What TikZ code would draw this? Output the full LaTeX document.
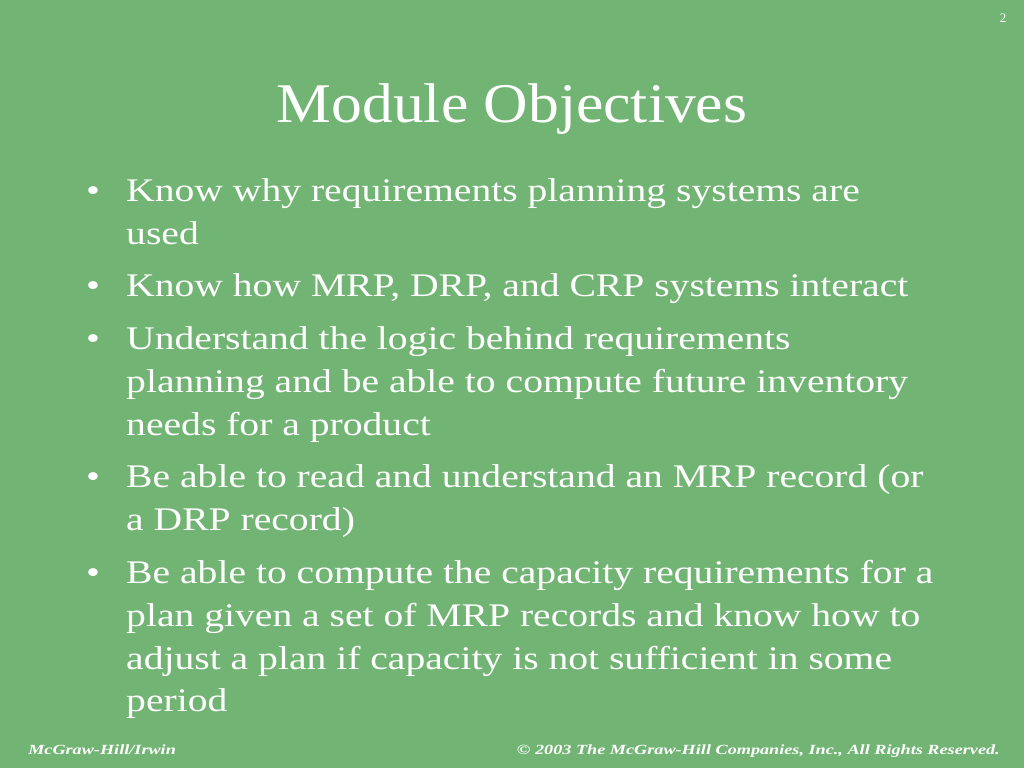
\documentclass[tikz,border=0pt]{standalone}
\usepackage{fontspec}
\setmainfont{Liberation Serif}
\begin{document}
\begin{tikzpicture}[x=1pt,y=-1pt,
  txt/.style={anchor=base west,inner sep=0pt,text=white,font=\fontsize{33}{38}\selectfont,xscale=1.2,transform shape},
  foot/.style={inner sep=0pt,text=white,font=\fontsize{14}{15}\selectfont\itshape\bfseries,xscale=1.3,transform shape}]
\fill[fill={rgb,255:red,114;green,180;blue,116}] (0,0) rectangle (1024,768);
\useasboundingbox (0,0) rectangle (1024,768);
\node[inner sep=0pt,text=white,font=\fontsize{13}{15}\selectfont] (pg) at (1003,18) {2};
\node[inner sep=0pt,text=white,font=\fontsize{56}{60}\selectfont,anchor=base,xscale=1.1,transform shape] (title) at (512,122) {Module Objectives};
\foreach \y in {201,296,349,487,583}{\node[txt] at (86,\y) {\textbullet};}
\node[txt] (l1) at (126,201) {Know why requirements planning systems are};
\node[txt] (l2) at (126,244) {used};
\node[txt] (l3) at (126,296) {Know how MRP, DRP, and CRP systems interact};
\node[txt] (l4) at (126,349) {Understand the logic behind requirements};
\node[txt] (l5) at (126,392) {planning and be able to compute future inventory};
\node[txt] (l6) at (126,435) {needs for a product};
\node[txt] (l7) at (126,487) {Be able to read and understand an MRP record (or};
\node[txt] (l8) at (126,530) {a DRP record)};
\node[txt] (l9) at (126,583) {Be able to compute the capacity requirements for a};
\node[txt] (l10) at (126,626) {plan given a set of MRP records and know how to};
\node[txt] (l11) at (126,669) {adjust a plan if capacity is not sufficient in some};
\node[txt] (l12) at (126,711) {period};
\node[foot,anchor=base west] (f1) at (28,754) {McGraw-Hill/Irwin};
\node[foot,anchor=base east] (f2) at (1000,754) {© 2003 The McGraw-Hill Companies, Inc., All Rights Reserved.};
\end{tikzpicture}
\end{document}
